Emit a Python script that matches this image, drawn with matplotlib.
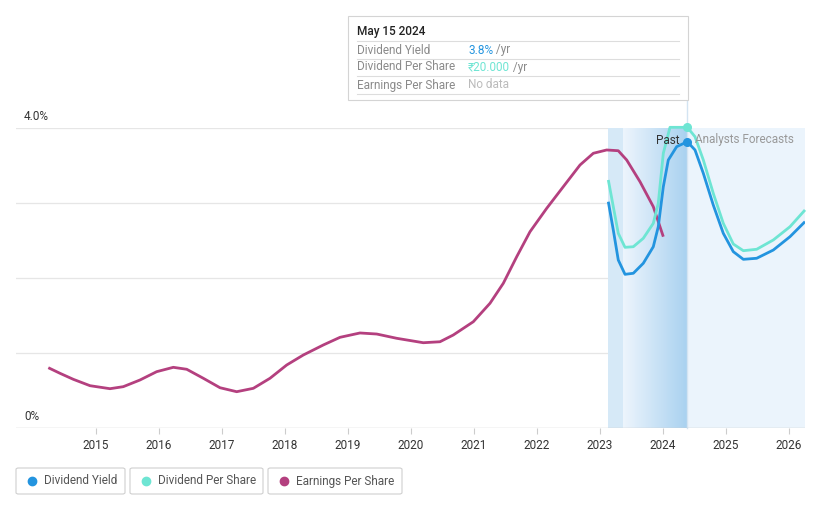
import matplotlib.pyplot as plt
import numpy as np
from matplotlib.patches import FancyBboxPatch, Rectangle
from matplotlib.lines import Line2D

plt.rcParams['font.family'] = ['Roboto', 'DejaVu Sans']

# values (x in decimal years, y in %)
eps_x = [2014.243, 2014.429, 2014.640, 2014.905, 2015.222, 2015.433, 2015.698, 2015.963,
         2016.227, 2016.440, 2016.703, 2016.968, 2017.233, 2017.497, 2017.762, 2018.027,
         2018.290, 2018.608, 2018.873, 2019.190, 2019.456, 2019.773, 2020.195, 2020.460,
         2020.671, 2020.989, 2021.254, 2021.465, 2021.678, 2021.889, 2022.154, 2022.417,
         2022.683, 2022.894, 2023.106, 2023.290, 2023.424, 2023.635, 2023.846, 2024.005]
eps_y = [0.804, 0.729, 0.649, 0.564, 0.524, 0.551, 0.640, 0.751,
         0.809, 0.783, 0.663, 0.537, 0.484, 0.529, 0.663, 0.840,
         0.973, 1.107, 1.209, 1.267, 1.253, 1.196, 1.137, 1.150,
         1.240, 1.417, 1.663, 1.929, 2.284, 2.617, 2.929, 3.217,
         3.507, 3.663, 3.707, 3.697, 3.573, 3.284, 2.951, 2.551]

dy_x = [2023.132, 2023.211, 2023.290, 2023.397, 2023.529, 2023.687, 2023.846, 2023.925,
        2024.005, 2024.084, 2024.217, 2024.386, 2024.508, 2024.640, 2024.798, 2024.957,
        2025.116, 2025.275, 2025.487, 2025.751, 2026.016, 2026.254]
dy_y = [3.017, 2.640, 2.240, 2.049, 2.063, 2.196, 2.417, 2.684,
        3.217, 3.573, 3.751, 3.817, 3.707, 3.396, 2.973, 2.596,
        2.351, 2.249, 2.263, 2.373, 2.551, 2.751]

dps_x = [2023.132, 2023.211, 2023.290, 2023.397, 2023.529, 2023.687, 2023.846, 2023.925,
         2024.005, 2024.111, 2024.386, 2024.508, 2024.640, 2024.798, 2024.957,
         2025.116, 2025.275, 2025.487, 2025.751, 2026.016, 2026.254]
dps_y = [3.307, 2.951, 2.596, 2.409, 2.417, 2.529, 2.729, 2.996,
         3.663, 4.009, 4.009, 3.884, 3.573, 3.129, 2.729,
         2.453, 2.364, 2.383, 2.507, 2.684, 2.907]

years = list(range(2015, 2027))
x_min, x_max = 2013.73, 2026.254
data_start, grad_start, today = 2023.127, 2023.365, 2024.386

c_dy = '#2394df'
c_dps = '#6ee5d3'
c_eps = '#b4407f'

fig = plt.figure(figsize=(8.21, 5.08), dpi=100)
ax = fig.add_axes([16 / 821, 1 - 428 / 508, 789 / 821, 300 / 508])
ax.set_xlim(x_min, x_max)
ax.set_ylim(0, 4)
for s in ax.spines.values():
    s.set_visible(False)

for v in [1, 2, 3, 4]:
    ax.axhline(v, color='#e6e6e6', lw=0.9, zorder=0)
ax.axhline(0, color='#cccccc', lw=1.0, zorder=1)

# shaded regions
ax.add_patch(Rectangle((data_start, 0), grad_start - data_start, 4, color='#d6e9f7', lw=0, zorder=0.5))
ax.add_patch(Rectangle((today, 0), x_max - today, 4, color='#ebf4fc', lw=0, zorder=0.5))
grad = np.linspace(0, 1, 256).reshape(1, -1)
c0 = np.array([0.93, 0.96, 0.99])
c1 = np.array([0.66, 0.82, 0.94])
img = c0 + (c1 - c0) * grad[..., None]
ax.imshow(img, extent=[grad_start, today, 0, 4], aspect='auto', zorder=0.6, interpolation='bilinear')
ax.plot([today, today], [0, 4.373], color='#d3e4f2', lw=1, clip_on=False, zorder=0.7)

kw = dict(lw=2.0, solid_joinstyle='round', solid_capstyle='butt')
ax.plot(eps_x, eps_y, color=c_eps, zorder=3, **kw)
ax.plot(dps_x, dps_y, color=c_dps, clip_on=False, zorder=3, **kw)
ax.plot(dy_x, dy_y, color=c_dy, zorder=4, **kw)
ax.plot([today], [4.009], 'o', color=c_dps, ms=5.5, clip_on=False, zorder=5)
ax.plot([today], [3.817], 'o', color=c_dy, ms=5.5, zorder=5)

ax.text(today - 0.12, 3.84, 'Past', ha='right', va='center', fontsize=8.5, color='#333333', zorder=6)
ax.text(today + 0.12, 3.84, 'Analysts Forecasts', ha='left', va='center', fontsize=8.5, color='#999999', zorder=6)

ax.set_yticks([])
ax.set_xticks(years)
ax.set_xticklabels([str(y) for y in years], fontsize=8.5, color='#333333')
ax.tick_params(axis='x', length=4, color='#cccccc', pad=4)

fig.text(24 / 821, 1 - 116 / 508, '4.0%', fontsize=8.5, color='#333333', va='center')
fig.text(24 / 821, 1 - 416 / 508, '0%', fontsize=8.5, color='#333333', va='center')

# tooltip
fig.patches.append(Rectangle((348 / 821, 1 - 100 / 508), 340 / 821, 84 / 508, transform=fig.transFigure,
                             facecolor='white', edgecolor='#d4d4d4', lw=0.8, zorder=10))
fig.text(357 / 821, 1 - 32 / 508, 'May 15 2024', fontsize=8.5, fontweight='medium', color='#222222',
         va='center', zorder=11)
for yy in [41, 59, 76, 94]:
    fig.add_artist(Line2D([357 / 821, 679 / 821], [1 - yy / 508] * 2, color='#dddddd', lw=0.8, zorder=11))
rows = [('Dividend Yield', '3.8%', c_dy, ' /yr'),
        ('Dividend Per Share', '₹20.000', c_dps, ' /yr'),
        ('Earnings Per Share', 'No data', '#bbbbbb', '')]
for (lab, val, col, suf), yy in zip(rows, [50, 67, 85]):
    fig.text(357 / 821, 1 - yy / 508, lab, fontsize=8.5, color='#8a8a8a', va='center', zorder=11)
    t = fig.text(468 / 821, 1 - yy / 508, val, fontsize=8.5, color=col, va='center', zorder=11)
    if suf:
        fig.canvas.draw()
        bb = t.get_window_extent()
        fig.text(bb.x1 / 821, 1 - yy / 508, suf, fontsize=8.5, color='#8a8a8a', va='center', zorder=11)

# legend boxes
legend = [('Dividend Yield', c_dy, 16, 125), ('Dividend Per Share', c_dps, 130, 263),
          ('Earnings Per Share', c_eps, 268, 402)]
for lab, col, x0, x1 in legend:
    fig.patches.append(FancyBboxPatch((x0 / 821, 1 - 494 / 508), (x1 - x0) / 821, 26 / 508,
                                      boxstyle='round,pad=0,rounding_size=0.003', transform=fig.transFigure,
                                      facecolor='white', edgecolor='#cfcfcf', lw=0.8))
    fig.add_artist(Line2D([(x0 + 16) / 821], [1 - 481 / 508], marker='o', ms=6, color=col, lw=0))
    fig.text((x0 + 28) / 821, 1 - 481 / 508, lab, fontsize=8.5, color='#555555', va='center')

fig.savefig('out.png', dpi=100)
